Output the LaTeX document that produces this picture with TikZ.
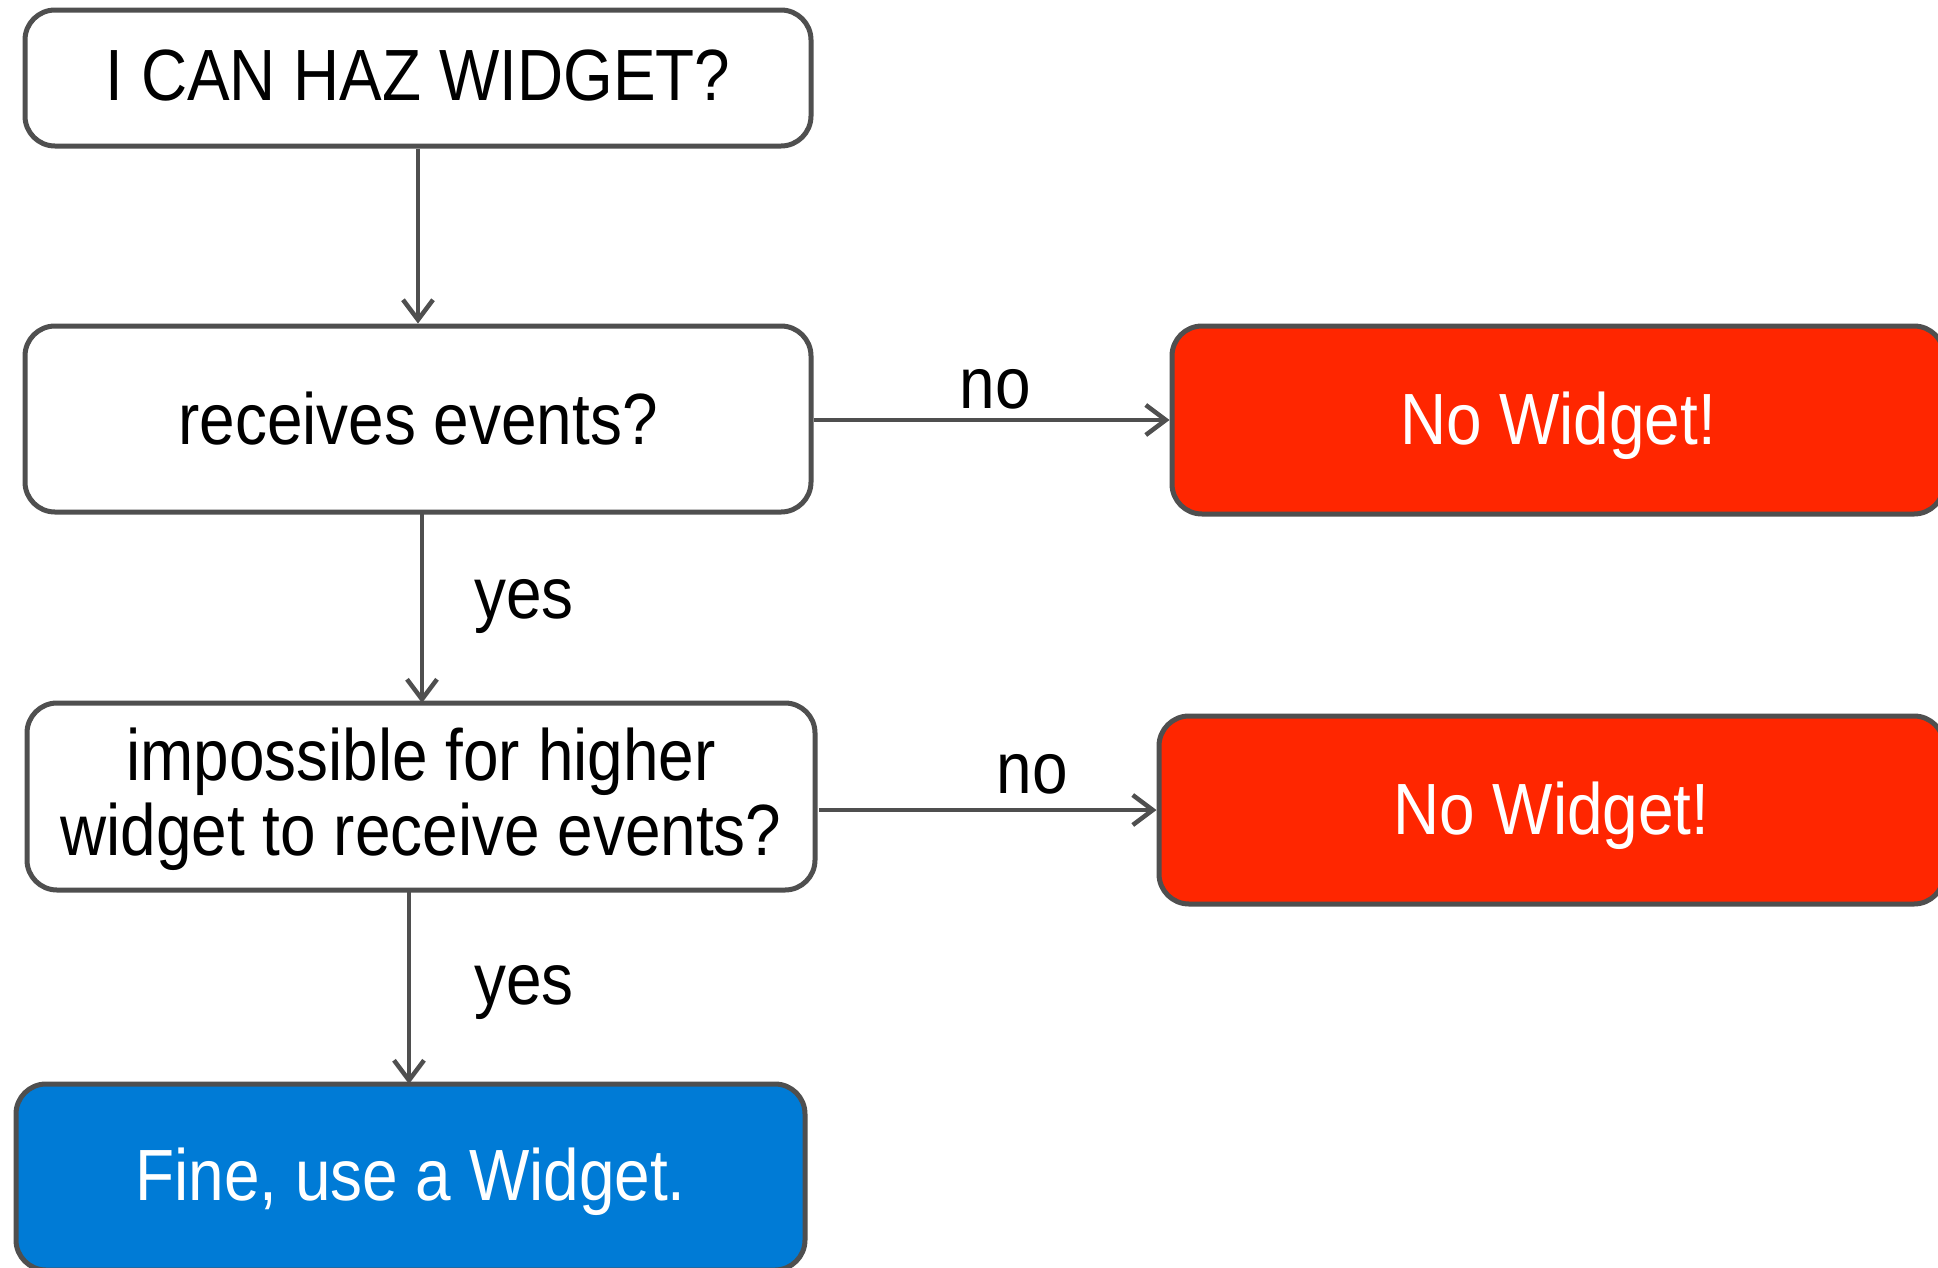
\documentclass[tikz,border=0pt]{standalone}
\usepackage{fontspec}
\setmainfont{Liberation Sans}
\newfontfamily\cf[FakeStretch=0.88]{Liberation Sans}
\usetikzlibrary{arrows.meta}
\definecolor{edgegrey}{HTML}{4F4F4F}
\definecolor{nored}{HTML}{FF2600}
\definecolor{okblue}{HTML}{007BD6}
\newcommand{\shiftby}[2]{\raisebox{#1}[\height][\depth]{#2}}
\tikzset{
  box/.style={draw=edgegrey, line width=5pt, rounded corners=30pt, align=center, inner sep=0pt,
    font=\cf\fontsize{72.6}{74}\selectfont},
  qbox/.style={box, fill=white, text=black},
  redbox/.style={box, fill=nored, text=white},
  bluebox/.style={box, fill=okblue, text=white},
  conn/.style={draw=edgegrey, line width=4.5pt, -{Straight Barb[length=20pt,width=30pt,line width=4.5pt]}},
  lbl/.style={font=\cf\fontsize{72.6}{74}\selectfont, inner sep=0pt, anchor=base}
}
\begin{document}
\begin{tikzpicture}[x=1pt,y=-1pt]
\useasboundingbox (0,0) rectangle (1938,1267);
\clip (0,0) rectangle (1938,1267);
\node[qbox, minimum width=786pt, minimum height=136pt] (q1) at (418,78) {\shiftby{2pt}{I CAN HAZ WIDGET?}};
\node[qbox, minimum width=786pt, minimum height=186pt] (q2) at (418,419) {receives events?};
\node[qbox, minimum width=788pt, minimum height=187pt] (q3) at (421,796.5) {\shiftby{-6pt}{\begin{tabular}{@{}c@{}}impossible for higher\\widget to receive events?\end{tabular}}};
\node[bluebox, minimum width=789pt, minimum height=186pt] (fine) at (410.5,1177) {\shiftby{-5pt}{Fine, use a Widget.}};
\node[redbox, minimum width=772pt, minimum height=188pt] (no1) at (1558,420) {\shiftby{-6pt}{No Widget!}};
\node[redbox, minimum width=785pt, minimum height=188pt] (no2) at (1551.5,810) {\shiftby{-6pt}{No Widget!}};
% connectors
\draw[conn] (q1.south) -- (q2.north);
\coordinate (a2s) at (422,512);
\coordinate (a2e) at (422,703);
\draw[conn] (a2s) -- (a2e);
\coordinate (a3s) at (409,890);
\coordinate (a3e) at (409,1084);
\draw[conn] (a3s) -- (a3e);
\draw[conn] (q2.east |- no1.west) -- (no1.west);
\coordinate (a5s) at (819,810);
\draw[conn] (a5s) -- (no2.west);
% labels
\node[lbl] (lno1) at (995,408) {no};
\node[lbl] (lno2) at (1032,793) {no};
\node[lbl] (lyes1) at (524,618) {yes};
\node[lbl] (lyes2) at (524,1004) {yes};
\end{tikzpicture}
\end{document}
